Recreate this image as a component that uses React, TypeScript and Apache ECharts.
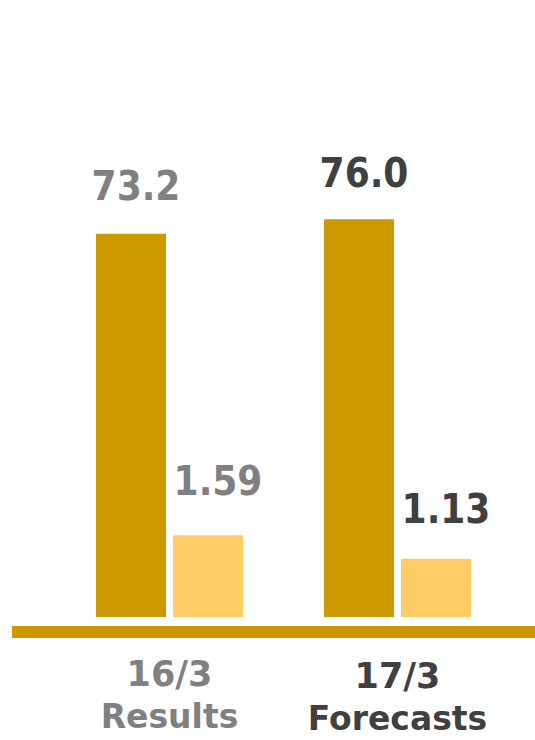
import React, { useEffect, useRef } from "react";
import * as echarts from "echarts";

const categories = ["16/3\nResults", "17/3\nForecasts"];
const categoryColors = ["#808080", "#404040"];
const primaryValues = [73.2, 76.0];
const secondaryValues = [1.59, 1.13];
const primaryLabels = ["73.2", "76.0"];
const secondaryLabels = ["1.59", "1.13"];

export default function App() {
  const ref = useRef<HTMLDivElement>(null);
  useEffect(() => {
    document.body.style.margin = "0";
    if (!ref.current) return;
    const chart = echarts.init(ref.current, undefined, { renderer: "svg" });
    const valueFont = "'DejaVu Sans Condensed', 'DejaVu Sans', sans-serif";
    const catFont = "'DejaVu Sans', sans-serif";
    const primaryDist = [28, 26];
    const secondaryDist = [34, 30];
    const rich: Record<string, any> = {};
    categoryColors.forEach((c, i) => {
      rich["y" + i] = {
        fontFamily: catFont,
        fontWeight: "bold",
        fontSize: 35,
        lineHeight: 43,
        color: c,
        padding: [i === 0 ? 0 : 5, 0, 0, 0],
      };
      rich["w" + i] = {
        fontFamily: catFont,
        fontWeight: "bold",
        fontSize: 33,
        lineHeight: 43,
        color: c,
        padding: [i === 0 ? 0 : 3, 0, 0, 0],
      };
    });
    chart.setOption({
      animation: false,
      grid: { left: 55.5, right: 23.5, top: 93.5, bottom: 123 },
      xAxis: {
        type: "category",
        data: categories,
        axisLine: { show: false },
        axisTick: { show: false },
        axisLabel: {
          margin: 35,
          interval: 0,
          formatter: (v: string, i: number) => {
            const parts = v.split("\n");
            return `{y${i}|${parts[0]}}\n{w${i}|${parts[1]}}`;
          },
          rich,
        },
      },
      yAxis: [
        { type: "value", min: 0, max: 100, show: false },
        { type: "value", min: 0, max: 10.17, show: false },
      ],
      series: [
        {
          type: "bar",
          yAxisIndex: 0,
          barWidth: 70,
          barGap: "10%",
          itemStyle: { color: "#CC9900" },
          data: primaryValues.map((v, i) => ({
            value: v,
            label: {
              show: true,
              position: "top",
              distance: primaryDist[i],
              offset: [5, 0],
              formatter: primaryLabels[i],
              color: categoryColors[i],
              fontFamily: valueFont,
              fontWeight: "bold",
              fontSize: 40,
            },
          })),
        },
        {
          type: "bar",
          yAxisIndex: 1,
          barWidth: 70,
          barGap: "10%",
          itemStyle: { color: "#FFCC66" },
          data: secondaryValues.map((v, i) => ({
            value: v,
            label: {
              show: true,
              position: "top",
              distance: secondaryDist[i],
              offset: [10, 0],
              formatter: secondaryLabels[i],
              color: categoryColors[i],
              fontFamily: valueFont,
              fontWeight: "bold",
              fontSize: 40,
            },
          })),
        },
      ],
      graphic: [
        {
          type: "rect",
          shape: { x: 12, y: 626, width: 523, height: 12 },
          style: { fill: "#CC9900" },
        },
      ],
    });
    return () => chart.dispose();
  }, []);
  return <div ref={ref} style={{ width: 535, height: 740 }} />;
}
